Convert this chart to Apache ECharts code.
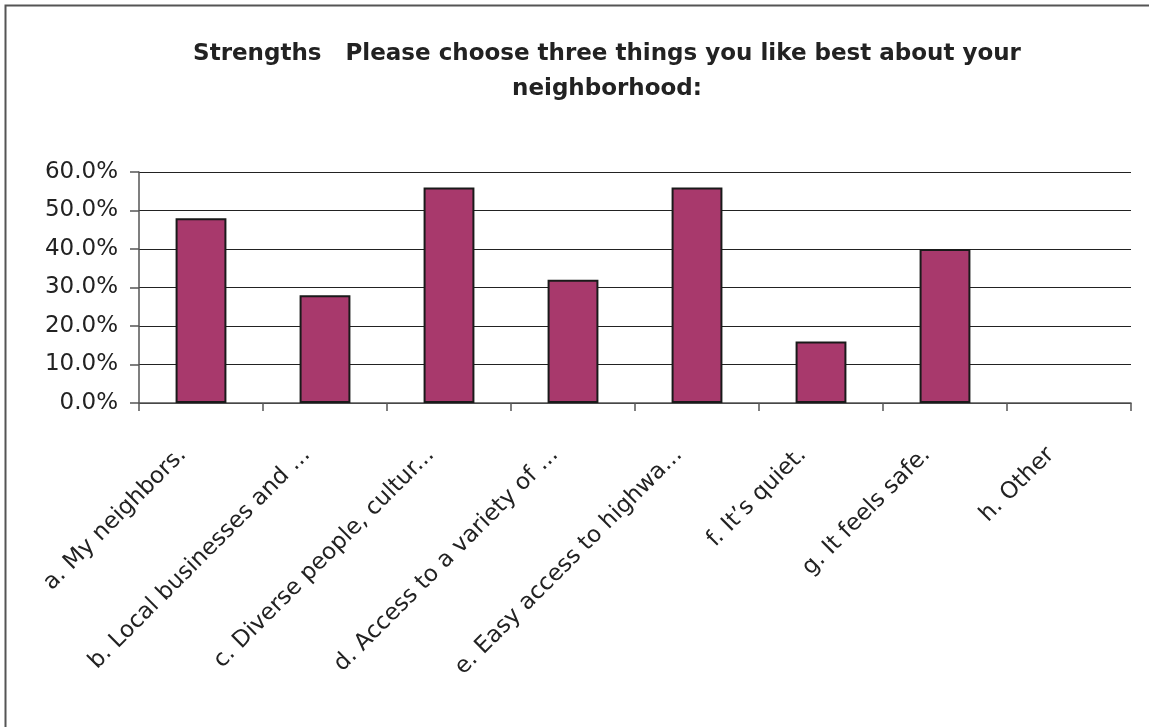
<!DOCTYPE html>
<html>
<head>
<meta charset="utf-8">
<script src="https://cdn.jsdelivr.net/npm/echarts@6/dist/echarts.min.js"></script>
<style>
html,body{margin:0;padding:0;background:#fff;}
#chart{width:1149px;height:727px;}
</style>
</head>
<body>
<div id="chart"></div>
<script>
const titleText = "Strengths   Please choose three things you like best about your\nneighborhood:";
const categories = [
  "a. My neighbors.",
  "b. Local businesses and ...",
  "c. Diverse people, cultur...",
  "d. Access to a variety of ...",
  "e. Easy access to highwa...",
  "f. It\u2019s quiet.",
  "g. It feels safe.",
  "h. Other"
];
const values = [48, 28, 56, 32, 56, 16, 40, 0];
const yMin = 0, yMax = 60, yInterval = 10;

const barData = values.map(v => v === 0
  ? {value: v, itemStyle: {borderWidth: 0}}
  : v);

const chart = echarts.init(document.getElementById('chart'), null, {renderer: 'canvas'});
chart.setOption({
  animation: false,
  backgroundColor: '#ffffff',
  title: {
    text: titleText,
    left: 602,
    textAlign: 'center',
    top: 32,
    textStyle: {
      fontFamily: 'DejaVu Sans',
      fontWeight: 'bold',
      fontSize: 23,
      lineHeight: 35,
      color: '#222222'
    }
  },
  graphic: [{
    type: 'polyline',
    shape: {points: [[5.5, 727], [5.5, 5.5], [1149, 5.5]]},
    style: {stroke: '#555555', lineWidth: 2, fill: null},
    silent: true
  }],
  grid: {left: 139, right: 18, top: 172, bottom: 324, containLabel: false},
  xAxis: {
    type: 'category',
    data: categories,
    boundaryGap: true,
    axisLine: {show: true, lineStyle: {color: '#555555', width: 1.5}},
    axisTick: {show: true, alignWithLabel: false, length: 8, lineStyle: {color: '#555555', width: 1.5}},
    axisLabel: {
      interval: 0,
      rotate: 45,
      margin: 30,
      padding: [0, 26, 0, 0],
      fontFamily: 'DejaVu Sans',
      fontSize: 23,
      color: '#222222'
    },
    splitLine: {show: false}
  },
  yAxis: {
    type: 'value',
    min: yMin,
    max: yMax,
    interval: yInterval,
    axisLine: {show: true, lineStyle: {color: '#555555', width: 1.5}},
    axisTick: {show: true, inside: false, length: 9, lineStyle: {color: '#555555', width: 1.5}},
    axisLabel: {
      margin: 21,
      fontFamily: 'DejaVu Sans',
      fontSize: 23,
      color: '#222222',
      formatter: v => v.toFixed(1) + '%'
    },
    splitLine: {show: true, lineStyle: {color: '#222222', width: 1.2}}
  },
  series: [{
    type: 'bar',
    data: barData,
    barWidth: '41%',
    itemStyle: {color: '#A8396C', borderColor: '#1a1a1a', borderWidth: 2}
  }]
});
</script>
</body>
</html>
